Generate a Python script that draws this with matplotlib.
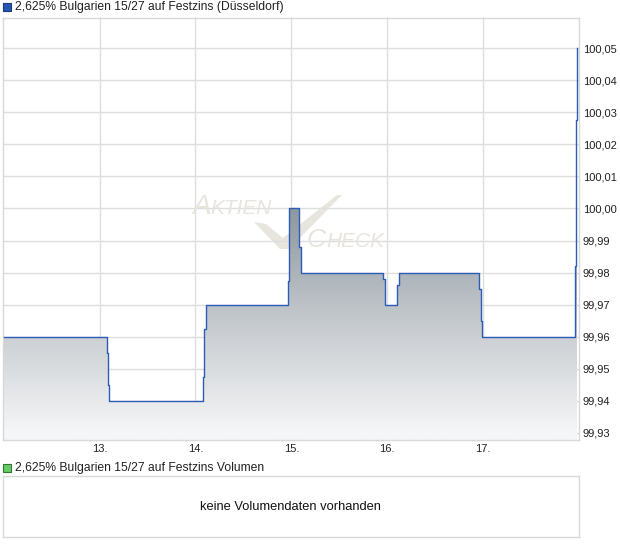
import numpy as np
import matplotlib
matplotlib.use("Agg")
import matplotlib.pyplot as plt
from matplotlib.patches import Rectangle, Polygon
from matplotlib.colors import LinearSegmentedColormap

plt.rcParams['font.family'] = ['Liberation Sans', 'DejaVu Sans']

# ---- data ----
times = [12.0, 13.081, 13.089, 13.099, 14.082, 14.090, 14.105, 14.961, 14.979,
         15.083, 15.104, 15.960, 15.978, 16.103, 16.120, 16.960, 16.978, 16.988,
         17.958, 17.969, 17.979]
prices = [99.96, 99.955, 99.945, 99.94, 99.9475, 99.9625, 99.97, 99.9775, 100.00,
          99.988, 99.98, 99.978, 99.97, 99.976, 99.98, 99.975, 99.965, 99.96,
          99.982, 100.0275, 100.05]
day_ticks = [13, 14, 15, 16, 17]
day_labels = ["13.", "14.", "15.", "16.", "17."]
price_ticks = [99.93, 99.94, 99.95, 99.96, 99.97, 99.98, 99.99,
               100.00, 100.01, 100.02, 100.03, 100.04, 100.05]
title_main = "2,625% Bulgarien 15/27 auf Festzins (Düsseldorf)"
title_vol = "2,625% Bulgarien 15/27 auf Festzins Volumen"
vol_msg = "keine Volumendaten vorhanden"

W, H = 620, 546
fig = plt.figure(figsize=(W / 100, H / 100), dpi=100)
fig.patch.set_facecolor("white")

grid_c = "#dedede"
spine_c = "#d8d8d8"
line_c = "#2a5cb8"
XL = (11.994, 17.993)
YL = (99.9278, 100.0594)

ax = fig.add_axes([3 / W, 1 - 440 / H, 575.5 / W, 422 / H])
ax.set_xlim(*XL)
ax.set_ylim(*YL)
ax.set_facecolor("white")
for s in ax.spines.values():
    s.set_color(spine_c)
    s.set_linewidth(1)

ax.set_xticks(day_ticks)
ax.set_xticklabels(day_labels)
ax.set_yticks(price_ticks)
ax.set_yticklabels([("%.2f" % v).replace(".", ",") for v in price_ticks])
ax.yaxis.tick_right()
ax.tick_params(axis="both", length=0, labelsize=8, colors="#222222")
ax.tick_params(axis="y", pad=3)
ax.tick_params(axis="x", pad=3)
ax.grid(True, color=grid_c, linewidth=1)
ax.set_axisbelow(True)


def fpx(x, y):
    return (x / W, 1 - y / H)


# watermark
wm_c = "#e8e4de"
check = Polygon([fpx(254, 222), fpx(266, 224), fpx(283, 238), fpx(337, 195),
                 fpx(342, 195), fpx(289, 249), fpx(280, 249)],
                closed=True, transform=fig.transFigure, facecolor=wm_c,
                edgecolor="none", zorder=0.5)
ax.add_artist(check)
ax.text(*fpx(192, 214), "A", transform=fig.transFigure, fontsize=20,
        style="italic", color=wm_c, zorder=0.6, va="baseline")
ax.text(*fpx(210, 214), "KTIEN", transform=fig.transFigure, fontsize=15,
        style="italic", color=wm_c, zorder=0.6, va="baseline")
ax.text(*fpx(307, 247), "C", transform=fig.transFigure, fontsize=19,
        style="italic", color=wm_c, zorder=0.6, va="baseline")
ax.text(*fpx(326, 247), "HECK", transform=fig.transFigure, fontsize=15,
        style="italic", color=wm_c, zorder=0.6, va="baseline")

# gradient fill under step line
ylo, yhi = YL
poly = ax.fill_between(times, prices, ylo, step="post", facecolor="none",
                       edgecolor="none", zorder=1)
cmap = LinearSegmentedColormap.from_list(
    "g", [(0.0, "#f5f6f7"), (0.25, "#c9cdd1"), (0.55, "#8c97a0"), (1.0, "#5d6a75")])
vals = np.linspace(ylo, yhi, 256)
frac = np.clip((vals - 99.93) / (100.00 - 99.93) * 0.55, 0, 1).reshape(-1, 1)
im = ax.imshow(frac, cmap=cmap, vmin=0, vmax=1, aspect="auto", origin="lower",
               extent=[XL[0], XL[1], ylo, yhi], zorder=1.5, interpolation="bilinear")
im.set_clip_path(poly.get_paths()[0], transform=ax.transData)
ax.set_xlim(*XL)
ax.set_ylim(*YL)

ax.plot(times, prices, drawstyle="steps-post", color=line_c, linewidth=1.0, zorder=3)

# legend squares + titles
fig.patches.append(Rectangle(fpx(3, 11), 8 / W, 8 / H, transform=fig.transFigure,
                             facecolor="#2456b4", edgecolor="#1c3670", linewidth=0.8))
fig.text(*fpx(15, 7), title_main, fontsize=8.7, va="center", ha="left", color="#222222")
fig.patches.append(Rectangle(fpx(3, 472), 8 / W, 8 / H, transform=fig.transFigure,
                             facecolor="#66cc66", edgecolor="#2f7a2f", linewidth=0.8))
fig.text(*fpx(15, 468), title_vol, fontsize=8.7, va="center", ha="left", color="#222222")

# volume panel
axv = fig.add_axes([3 / W, 1 - 537 / H, 575.5 / W, 61 / H])
axv.set_xticks([])
axv.set_yticks([])
for s in axv.spines.values():
    s.set_color(spine_c)
    s.set_linewidth(1)
axv.text(0.5, 0.5, vol_msg, transform=axv.transAxes, ha="center", va="center",
         fontsize=9.3, color="#111111")

fig.savefig("out.png", dpi=100)
